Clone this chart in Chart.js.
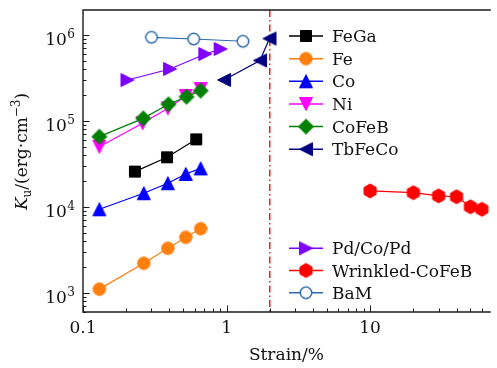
<!DOCTYPE html>
<html>
<head>
<meta charset="utf-8">
<script src="https://cdn.jsdelivr.net/npm/chart.js@4.4.0/dist/chart.umd.min.js"></script>
<style>
  html, body { margin: 0; padding: 0; background: #fff; }
</style>
</head>
<body>
<canvas id="kuChart" width="497" height="368"></canvas>
<script>
// strain (%) vs uniaxial anisotropy Ku (erg/cm^3), one pair of arrays per material
const fegaStrain = [0.23, 0.385, 0.615];
const fegaKu = [2.57e4, 3.77e4, 6.1e4];
const feStrain = [0.13, 0.265, 0.39, 0.52, 0.66];
const feKu = [1.1e3, 2.2e3, 3.29e3, 4.42e3, 5.56e3];
const coStrain = [0.13, 0.265, 0.39, 0.52, 0.66];
const coKu = [9.35e3, 1.44e4, 1.88e4, 2.41e4, 2.8e4];
const niStrain = [0.13, 0.26, 0.39, 0.52, 0.66];
const niKu = [5.0e4, 9.4e4, 1.4e5, 1.95e5, 2.35e5];
const cofebStrain = [0.13, 0.263, 0.394, 0.526, 0.66];
const cofebKu = [6.55e4, 1.07e5, 1.56e5, 1.91e5, 2.25e5];
const tbfecoStrain = [0.96, 1.71, 1.99];
const tbfecoKu = [3.0e5, 5.05e5, 9.1e5];
const pdcoStrain = [0.204, 0.404, 0.711, 0.91];
const pdcoKu = [2.99e5, 4.02e5, 6.0e5, 6.87e5];
const wrinkledStrain = [10, 20, 30, 40, 50, 60];
const wrinkledKu = [1.53e4, 1.46e4, 1.34e4, 1.31e4, 1.0e4, 9.35e3];
const bamStrain = [0.3, 0.59, 1.3];
const bamKu = [9.4e5, 8.98e5, 8.45e5];

const strainLimit = 2;              // dash-dot reference line
const xTickLabels = ['0.1', '1', '10'];
const xTickValues = [0.1, 1, 10];
const yTickExponents = [3, 4, 5, 6];

const SERIF = '"DejaVu Serif", serif';

// marker sprites, drawn once and handed to Chart.js as pointStyle
function makeMarker(shape, size, fill, stroke, lineWidth) {
    const c = document.createElement('canvas');
    const side = 2 * Math.ceil((size + 4) / 2);
    c.width = c.height = side;
    const g = c.getContext('2d');
    const m = side / 2, r = size / 2;
    g.beginPath();
    switch (shape) {
        case 'square': g.rect(m - r, m - r, 2 * r, 2 * r); break;
        case 'circle': g.arc(m, m, r, 0, Math.PI * 2); break;
        case 'triUp': g.moveTo(m, m - r); g.lineTo(m - r, m + r); g.lineTo(m + r, m + r); break;
        case 'triDown': g.moveTo(m, m + r); g.lineTo(m - r, m - r); g.lineTo(m + r, m - r); break;
        case 'triLeft': g.moveTo(m - r, m); g.lineTo(m + r, m - r); g.lineTo(m + r, m + r); break;
        case 'triRight': g.moveTo(m + r, m); g.lineTo(m - r, m - r); g.lineTo(m - r, m + r); break;
        case 'diamond': g.moveTo(m, m - r); g.lineTo(m + r, m); g.lineTo(m, m + r); g.lineTo(m - r, m); break;
        case 'hexagon':
            for (let k = 0; k < 6; k++) {
                const a = (-90 + 60 * k) * Math.PI / 180;
                const px = m + r * Math.cos(a), py = m + r * Math.sin(a);
                if (k === 0) g.moveTo(px, py); else g.lineTo(px, py);
            }
            break;
    }
    g.closePath();
    g.fillStyle = fill;
    g.fill();
    g.lineWidth = lineWidth;
    g.strokeStyle = stroke;
    g.stroke();
    return c;
}

function pts(xs, ys) {
    return xs.map((x, i) => ({ x: x, y: ys[i] }));
}

const series = [
    { label: 'FeGa', xs: fegaStrain, ys: fegaKu, color: '#000000', marker: makeMarker('square', 11, '#000000', '#000000', 1) },
    { label: 'Fe', xs: feStrain, ys: feKu, color: '#ff7f0e', marker: makeMarker('circle', 12.5, '#ff7f0e', '#ff7f0e', 1) },
    { label: 'Co', xs: coStrain, ys: coKu, color: '#0000ff', marker: makeMarker('triUp', 13, '#0000ff', '#0000ff', 1) },
    { label: 'Ni', xs: niStrain, ys: niKu, color: '#ff00ff', marker: makeMarker('triDown', 13, '#ff00ff', '#ff00ff', 1) },
    { label: 'CoFeB', xs: cofebStrain, ys: cofebKu, color: '#008000', marker: makeMarker('diamond', 15, '#008000', '#008000', 1) },
    { label: 'TbFeCo', xs: tbfecoStrain, ys: tbfecoKu, color: '#000080', marker: makeMarker('triLeft', 13, '#000080', '#000080', 1) },
    { label: 'Pd/Co/Pd', xs: pdcoStrain, ys: pdcoKu, color: '#8000ff', marker: makeMarker('triRight', 13, '#8000ff', '#8000ff', 1) },
    { label: 'Wrinkled-CoFeB', xs: wrinkledStrain, ys: wrinkledKu, color: '#ff0000', marker: makeMarker('hexagon', 14, '#ff0000', '#ff0000', 1) },
    { label: 'BaM', xs: bamStrain, ys: bamKu, color: '#2e6ba8', marker: makeMarker('circle', 11.5, '#ffffff', '#2e6ba8', 1.5) }
];

// the legend is split in two blocks
const legendTop = series.slice(0, 6);
const legendBottom = series.slice(6);

const datasets = series.map((s, i) => ({
    label: s.label,
    data: pts(s.xs, s.ys),
    showLine: true,
    borderColor: s.color,
    backgroundColor: s.color,
    borderWidth: 1.2,
    pointStyle: s.marker,
    pointRadius: 6,
    pointHoverRadius: 6,
    order: -i   // later series painted on top
}));

function drawLegendBlock(ctx, items, y0, step) {
    items.forEach((s, i) => {
        const y = y0 + i * step;
        ctx.strokeStyle = s.color;
        ctx.lineWidth = 1.5;
        ctx.beginPath();
        ctx.moveTo(289, y);
        ctx.lineTo(323, y);
        ctx.stroke();
        ctx.drawImage(s.marker, 306 - s.marker.width / 2, y - s.marker.height / 2);
        ctx.fillStyle = '#111';
        ctx.font = '17px ' + SERIF;
        ctx.textAlign = 'left';
        ctx.textBaseline = 'alphabetic';
        ctx.fillText(s.label, 332, y + 6);
    });
}

const decorPlugin = {
    id: 'decor',
    beforeDatasetsDraw(chart) {
        const { ctx, chartArea, scales } = chart;
        const px = scales.x.getPixelForValue(strainLimit);
        ctx.save();
        ctx.strokeStyle = '#ff1a1a';
        ctx.lineWidth = 1.5;
        ctx.setLineDash([7, 3, 1.5, 3]);
        ctx.beginPath();
        ctx.moveTo(px, chartArea.top);
        ctx.lineTo(px, chartArea.bottom);
        ctx.stroke();
        ctx.restore();
    },
    afterDatasetsDraw(chart) {
        const { ctx, chartArea, scales } = chart;
        const xs = scales.x, ys = scales.y;
        const { left, right, top, bottom } = chartArea;
        ctx.save();

        // spines
        ctx.strokeStyle = '#1a1a1a';
        ctx.lineWidth = 1.4;
        ctx.beginPath();
        ctx.moveTo(right + 1, top);
        ctx.lineTo(left, top);
        ctx.lineTo(left, bottom);
        ctx.lineTo(right + 1, bottom);
        ctx.stroke();

        // inward log ticks
        ctx.lineWidth = 1;
        ctx.beginPath();
        for (let e = -1; e <= 2; e++) {
            for (let m = 1; m <= 9; m++) {
                const v = m * Math.pow(10, e);
                if (v < xs.min || v > xs.max) continue;
                const p = Math.round(xs.getPixelForValue(v)) + 0.5;
                const len = m === 1 ? 6.5 : 3.5;
                ctx.moveTo(p, bottom);
                ctx.lineTo(p, bottom - len);
            }
        }
        for (let e = 2; e <= 6; e++) {
            for (let m = 1; m <= 9; m++) {
                const v = m * Math.pow(10, e);
                if (v < ys.min || v > ys.max) continue;
                const p = Math.round(ys.getPixelForValue(v)) + 0.5;
                const len = m === 1 ? 6.5 : 3.5;
                ctx.moveTo(left, p);
                ctx.lineTo(left + len, p);
            }
        }
        ctx.stroke();

        // tick labels
        ctx.fillStyle = '#111';
        ctx.font = '17px ' + SERIF;
        ctx.textAlign = 'center';
        ctx.textBaseline = 'alphabetic';
        xTickValues.forEach((v, i) => {
            ctx.fillText(xTickLabels[i], xs.getPixelForValue(v), 333);
        });
        yTickExponents.forEach(e => {
            const p = ys.getPixelForValue(Math.pow(10, e));
            ctx.font = '12px ' + SERIF;
            const supW = ctx.measureText(String(e)).width;
            ctx.textAlign = 'left';
            ctx.fillText(String(e), 75 - supW, p + 3);
            ctx.font = '17px ' + SERIF;
            ctx.textAlign = 'right';
            ctx.fillText('10', 75 - supW - 0.5, p + 10);
        });

        // axis titles
        ctx.font = '17px ' + SERIF;
        ctx.textAlign = 'center';
        ctx.fillText('Strain/%', (left + right) / 2, 360);

        const parts = [
            { t: 'K', font: 'italic 17px ' + SERIF, dy: 0 },
            { t: 'u', font: '12px ' + SERIF, dy: 4 },
            { t: '/(erg·cm', font: '17px ' + SERIF, dy: 0 },
            { t: '−3', font: '12px ' + SERIF, dy: -7 },
            { t: ')', font: '17px ' + SERIF, dy: 0 }
        ];
        let total = 0;
        parts.forEach(p => { ctx.font = p.font; p.w = ctx.measureText(p.t).width; total += p.w; });
        ctx.translate(27, 151.5);
        ctx.rotate(-Math.PI / 2);
        ctx.textAlign = 'left';
        let cx = -total / 2;
        parts.forEach(p => {
            ctx.font = p.font;
            ctx.fillText(p.t, cx, p.dy);
            cx += p.w;
        });
        ctx.restore();

        ctx.save();
        drawLegendBlock(ctx, legendTop, 36, 22.65);
        drawLegendBlock(ctx, legendBottom, 248.3, 22.2);
        ctx.restore();
    }
};

const kuChart = new Chart(document.getElementById('kuChart').getContext('2d'), {
    type: 'scatter',
    data: { datasets: datasets },
    options: {
        responsive: false,
        animation: false,
        events: [],
        layout: { padding: { left: 83, top: 10, right: 0, bottom: 56 } },
        scales: {
            x: { type: 'logarithmic', min: 0.1, max: 68.2, display: false },
            y: { type: 'logarithmic', min: 596, max: 1.954e6, display: false }
        },
        plugins: {
            legend: { display: false },
            tooltip: { enabled: false }
        },
        elements: { line: { tension: 0 } }
    },
    plugins: [decorPlugin]
});
</script>
</body>
</html>
